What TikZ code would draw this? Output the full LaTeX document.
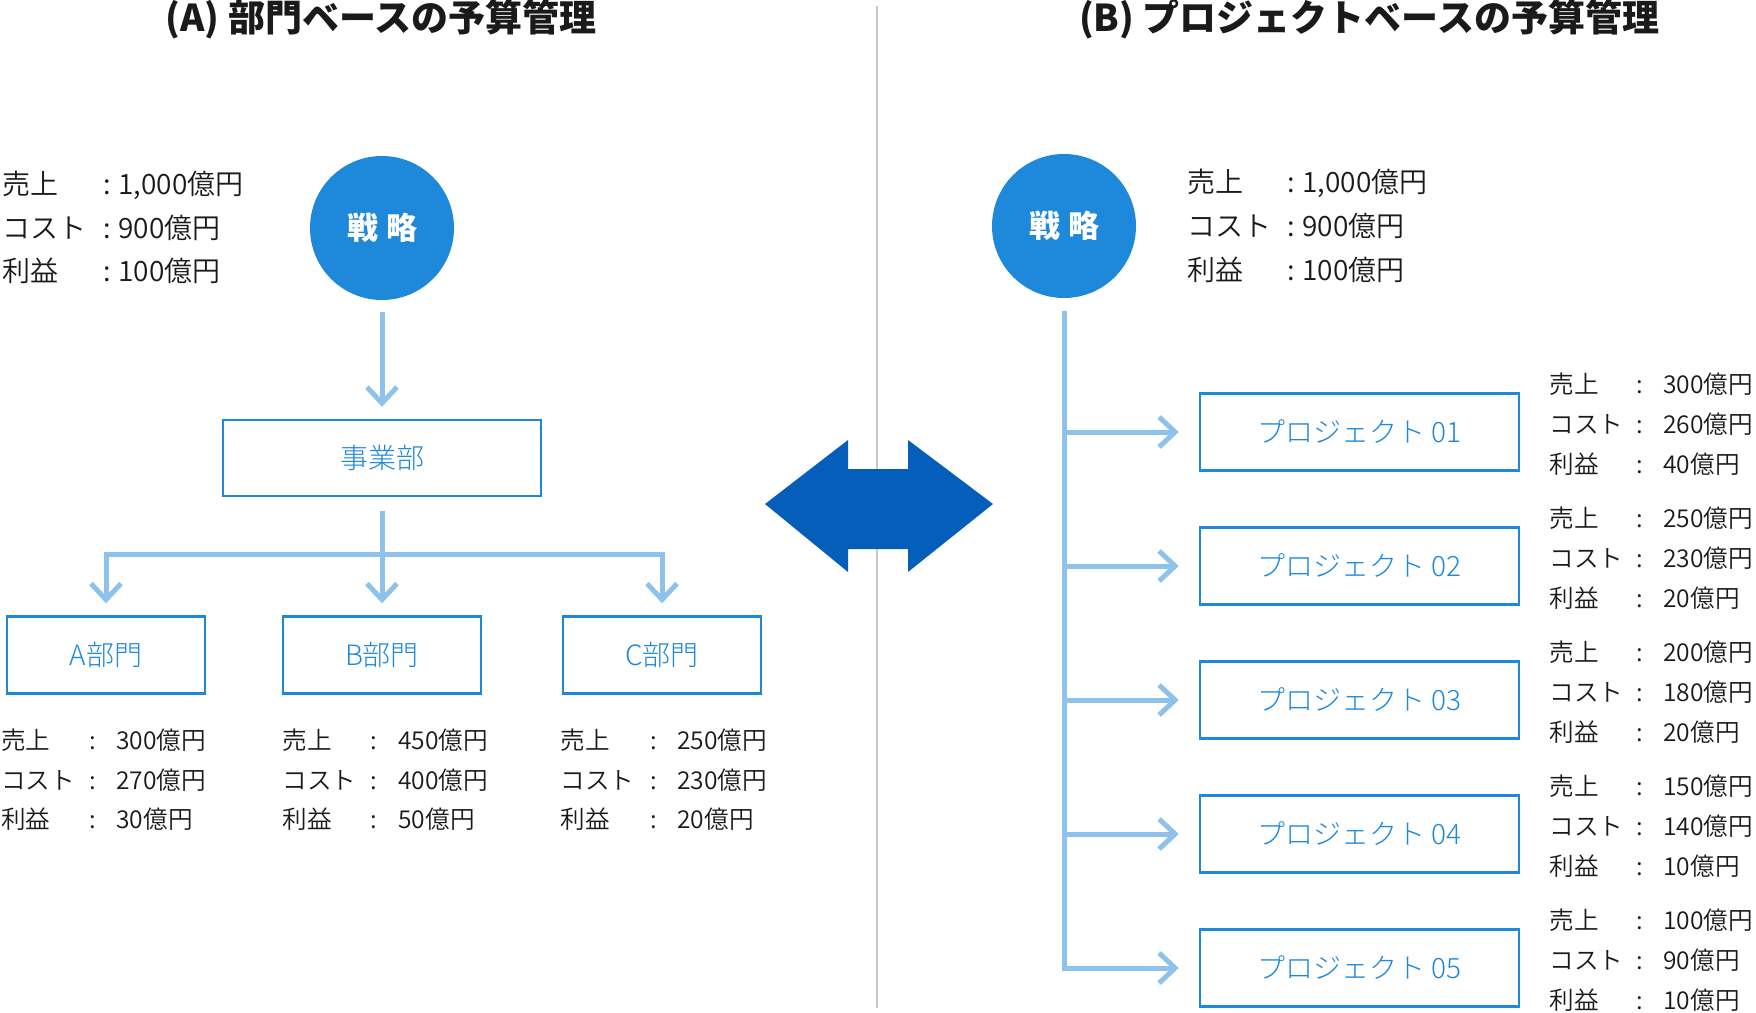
\documentclass[tikz,border=0pt]{standalone}
\usepackage{fontspec}
\setmainfont{Noto Sans CJK JP}
\IfFontExistsTF{Noto Sans CJK JP Light}{\newfontfamily\lightfont{Noto Sans CJK JP Light}}{\newfontfamily\lightfont{Noto Sans CJK JP}}
\IfFontExistsTF{Noto Sans CJK JP DemiLight}{\newfontfamily\demifont{Noto Sans CJK JP DemiLight}}{\newfontfamily\demifont{Noto Sans CJK JP}}
\usetikzlibrary{arrows.meta,calc}
\definecolor{cblue}{RGB}{30,136,219}
\definecolor{lblue}{RGB}{142,194,234}
\definecolor{dblue}{RGB}{6,94,187}
\definecolor{txt}{RGB}{26,26,26}
\definecolor{divgray}{RGB}{200,200,200}
\begin{document}
\begin{tikzpicture}[x=0.5pt,y=-0.5pt,
  title/.style={font=\fontsize{18.5}{20}\selectfont\bfseries, text=txt, inner sep=0},
  strat/.style={circle, fill=cblue, minimum size=72pt, inner sep=0, text=white, font=\fontsize{15.5}{16}\selectfont\bfseries},
  ubox/.style={draw=cblue, line width=1.25pt, inner sep=0, text=cblue, font=\lightfont\fontsize{14}{16}\selectfont, text height=1em, text depth=0em},
  stat/.style={anchor=west, inner sep=0, text=txt, font=\demifont\fontsize{12.3}{14}\selectfont, text height=0.94em, text depth=0.06em},
  bigstat/.style={stat, font=\demifont\fontsize{14}{15}\selectfont},
  conn/.style={draw=lblue, line width=2.5pt},
  arr/.style={conn, -{Straight Barb[length=8pt,width=15pt]}},
]
\useasboundingbox (0,0) rectangle (1756,1012);

% titles
\node[title] (tA) at (381,19) {(A) 部門ベースの予算管理};
\node[title] (tB) at (1369,19) {(B) プロジェクトベースの予算管理};

% divider
\coordinate (divT) at (877,6);
\coordinate (divB) at (877,1008);
\draw[divgray, line width=1pt] (divT) -- (divB);

% double arrow
\fill[dblue] (765,504) -- (848,440) -- (848,469) -- (908,469) -- (908,440) -- (993,504)
  -- (908,572) -- (908,549) -- (848,549) -- (848,572) -- cycle;

% ---------- left ----------
\node[strat] (s1) at (382,228) {戦\hspace{4pt}略};
\node[bigstat] (l1a) at (2,186) {売上};
\node[bigstat] (l1b) at (103,186) {:};
\node[bigstat] (l1c) at (118,186) {1,000億円};
\node[bigstat] (l2a) at (2,230) {コスト};
\node[bigstat] (l2b) at (103,230) {:};
\node[bigstat] (l2c) at (118,230) {900億円};
\node[bigstat] (l3a) at (2,273) {利益};
\node[bigstat] (l3b) at (103,273) {:};
\node[bigstat] (l3c) at (118,273) {100億円};

\node[ubox, minimum width=159pt, minimum height=38pt] (jg) at (382,458) {事業部};
\node[ubox, minimum width=99pt, minimum height=38.5pt] (dA) at (106,655) {A部門};
\node[ubox, minimum width=99pt, minimum height=38.5pt] (dB) at (382,655) {B部門};
\node[ubox, minimum width=99pt, minimum height=38.5pt] (dC) at (662,655) {C部門};

\draw[arr] ([yshift=-6pt]s1.south) -- ([yshift=6pt]jg.north);
\coordinate (bar) at (382,554);
\draw[arr] ([yshift=-7pt]jg.south) -- ([yshift=6pt]dB.north);
\draw[arr] (bar) -| ([yshift=6pt]dA.north);
\draw[arr] (bar) -| ([yshift=6pt]dC.north);

\foreach \n/\lx/\cx/\vx/\a/\b/\c in {A/1/89/116/300/270/30, B/282/370/398/450/400/50, C/560/650/677/250/230/20}{
  \node[stat] (d\n1a) at (\lx,741) {売上};
  \node[stat] (d\n1b) at (\cx,741) {:};
  \node[stat] (d\n1c) at (\vx,741) {\a 億円};
  \node[stat] (d\n2a) at (\lx,781) {コスト};
  \node[stat] (d\n2b) at (\cx,781) {:};
  \node[stat] (d\n2c) at (\vx,781) {\b 億円};
  \node[stat] (d\n3a) at (\lx,820) {利益};
  \node[stat] (d\n3b) at (\cx,820) {:};
  \node[stat] (d\n3c) at (\vx,820) {\c 億円};
}

% ---------- right ----------
\node[strat] (s2) at (1064,226) {戦\hspace{4pt}略};
\node[bigstat] (r1a) at (1187,184) {売上};
\node[bigstat] (r1b) at (1287,184) {:};
\node[bigstat] (r1c) at (1302,184) {1,000億円};
\node[bigstat] (r2a) at (1187,228) {コスト};
\node[bigstat] (r2b) at (1287,228) {:};
\node[bigstat] (r2c) at (1302,228) {900億円};
\node[bigstat] (r3a) at (1187,272) {利益};
\node[bigstat] (r3b) at (1287,272) {:};
\node[bigstat] (r3c) at (1302,272) {100億円};

\foreach \k/\a/\b/\c in {1/300/260/40, 2/250/230/20, 3/200/180/20, 4/150/140/10, 5/100/90/10}{
  \node[ubox, minimum width=159.5pt, minimum height=38.5pt] (p\k) at (1359.5,{432+134*(\k-1)}) {プロジェクト 0\k};
  \node[stat] (q\k a1) at (1549,{385+134*(\k-1)}) {売上};
  \node[stat] (q\k b1) at (1636,{385+134*(\k-1)}) {:};
  \node[stat] (q\k c1) at (1663,{385+134*(\k-1)}) {\a 億円};
  \node[stat] (q\k a2) at (1549,{425+134*(\k-1)}) {コスト};
  \node[stat] (q\k b2) at (1636,{425+134*(\k-1)}) {:};
  \node[stat] (q\k c2) at (1663,{425+134*(\k-1)}) {\b 億円};
  \node[stat] (q\k a3) at (1549,{465+134*(\k-1)}) {利益};
  \node[stat] (q\k b3) at (1636,{465+134*(\k-1)}) {:};
  \node[stat] (q\k c3) at (1663,{465+134*(\k-1)}) {\c 億円};
}

\draw[arr] ([yshift=-6.5pt]s2.south) |- ([xshift=-10pt]p5.west);
\foreach \k in {1,2,3,4}{
  \draw[arr] (s2.south |- p\k.west) -- ([xshift=-10pt]p\k.west);
}
\end{tikzpicture}
\end{document}
